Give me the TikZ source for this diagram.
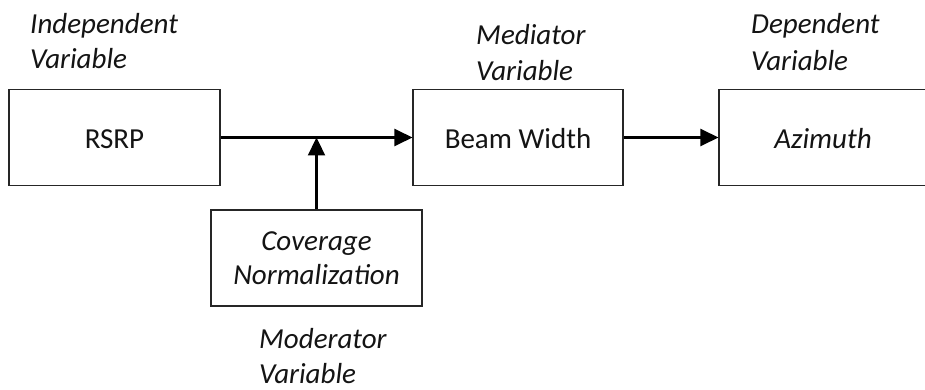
\documentclass[tikz,border=0pt]{standalone}
\usepackage{fontspec}
\setmainfont{Carlito}
\usetikzlibrary{arrows.meta}
\begin{document}
\begin{tikzpicture}[x=1pt,y=-1pt,
  every node/.style={font=\fontsize{29}{35.4}\selectfont, text=black!92, inner sep=0pt},
  box/.style={draw=black!85, line width=1.1pt, fill=white, text height=22pt, text depth=0pt},
  lbl/.style={anchor=base west, font=\fontsize{29}{35.4}\selectfont\itshape},
  arr/.style={line width=2.3pt, -{Triangle[length=18pt,width=17pt]}}
]
\useasboundingbox (0,0) rectangle (925,390);
\clip (0,0) rectangle (925,390);
% boxes
\node[box, minimum width=211pt, minimum height=96pt] (rsrp) at (114.5,137.5) {RSRP};
\node[box, minimum width=210pt, minimum height=96pt] (bw) at (518,137.5) {Beam Width};
\node[box, minimum width=208pt, minimum height=96pt, font=\fontsize{29}{35.4}\selectfont\itshape] (az) at (823,137.5) {Azimuth};
\node[draw=black!85, line width=1.1pt, fill=white, minimum width=211pt, minimum height=96pt, align=center,
      font=\fontsize{29}{34}\selectfont\itshape] (cov) at (316.5,258) {Coverage\\Normalization};
% labels
\node[lbl] (ind1) at (30,34) {Independent};
\node[lbl] (ind2) at (30,69) {Variable};
\node[lbl] (med1) at (476,45) {Mediator};
\node[lbl] (med2) at (476,81) {Variable};
\node[lbl] (dep1) at (751,34) {Dependent};
\node[lbl] (dep2) at (751,71) {Variable};
\node[lbl] (mod1) at (259,348) {Moderator};
\node[lbl] (mod2) at (259,383) {Variable};
% connectors
\draw[arr] (rsrp.east) -- (bw.west);
\draw[arr] (cov.north) -- (cov.north |- rsrp.east);
\draw[arr] (bw.east) -- (az.west);
\end{tikzpicture}
\end{document}
